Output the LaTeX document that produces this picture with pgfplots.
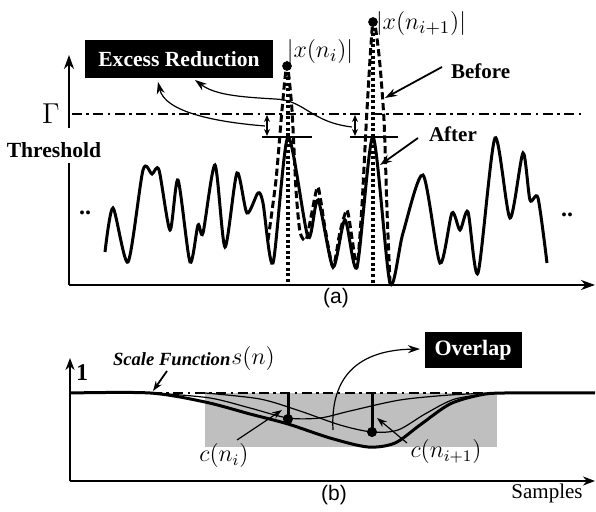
\documentclass[border=0pt]{standalone}
\usepackage{fontspec}
\setmainfont{Liberation Serif}
\newfontfamily\sansf{Liberation Sans}
\usepackage{pgfplots}
\pgfplotsset{compat=1.18}
\usetikzlibrary{arrows.meta}

\begin{document}
\begin{tikzpicture}
\path[use as bounding box] (0,0) rectangle (298pt,256pt);
\begin{axis}[
  at={(0,0)}, anchor=south west,
  scale only axis, width=298pt, height=256pt,
  xmin=0, xmax=596, ymin=0, ymax=512,
  y dir=reverse, hide axis, clip=false,
]
% ---------- panel (a) ----------
% axes
\addplot[line width=1.4pt, -{Stealth[length=7pt,width=5pt]}] coordinates {(69,285)(595,285)};
\addplot[line width=1.4pt] coordinates {(69,285)(69,163)};
\addplot[line width=1.4pt, -{Stealth[length=7pt,width=5pt]}] coordinates {(69,128)(69,55)};
% threshold
\addplot[line width=1.3pt, dash pattern=on 5pt off 2.2pt on 1.3pt off 2.2pt] coordinates {(72,114)(582,114)};
% signal before clipping
\addplot[line width=1.5pt, dash pattern=on 3.6pt off 1.8pt, smooth, tension=0.4] coordinates {
  (268,240)(276,180)(282,110)(287,65)(292,110)(296,190)(300,232)(306,240)
  (312,212)(318,187)(325,228)(333,267)(340,232)(347,210)(352,238)(357,267)
  (362,205)(367,110)(373,21)(379,55)(384,120)(387,210)(390,283)};
% signal after clipping
\addplot[line width=1.5pt, smooth, tension=0.45] coordinates {
  (105,252)(113,208)(128,262)(143,170)(152,174)(159,170)(170,230)(178,180)
  (190,262)(198,225)(203,233)(215,165)(225,247)(237,173)(247,213)(258,193)
  (263,203)(273,263)(288,137)(308,237)(318,200)(333,267)(345,220)(357,267)
  (373,137)(390,283)(403,233)(423,175)(440,263)(452,213)(460,230)(468,212)
  (478,273)(495,138)(510,218)(523,153)(530,200)(538,198)(547,263)};
% peak positions
\addplot[line width=1.6pt, dash pattern=on 1.5pt off 1.3pt] coordinates {(288,66)(288,285)};
\addplot[line width=1.6pt, dash pattern=on 1.5pt off 1.3pt] coordinates {(373,22)(373,285)};
\addplot[only marks, mark=*, mark size=2.2pt] coordinates {(287,66)(373,22)};
% clipped level and excess arrows
\addplot[line width=0.6pt] coordinates {(262,137)(312,137)};
\addplot[line width=0.6pt] coordinates {(350,137)(398,137)};
\addplot[line width=0.6pt, {Stealth[length=3.5pt,width=3pt]}-{Stealth[length=3.5pt,width=3pt]}] coordinates {(267,115)(267,136)};
\addplot[line width=0.6pt, {Stealth[length=3.5pt,width=3pt]}-{Stealth[length=3.5pt,width=3pt]}] coordinates {(355,115)(355,136)};
\draw[line width=0.6pt, -{Stealth[length=6pt,width=4pt]}] (265,126) .. controls (215,122) and (165,112) .. (158,82);
\draw[line width=0.6pt, -{Stealth[length=6pt,width=4pt]}] (352,127) .. controls (310,122) and (305,100) .. (275,99) .. controls (240,97) and (215,95) .. (195,80);
% labels
\node[fill=black, text=white, font=\fontsize{10.8}{12}\selectfont\bfseries,
      minimum width=94pt, minimum height=19pt, inner sep=0pt] at (179,59) {Excess Reduction};
\node[font=\fontsize{14}{16}\selectfont] at (51,114) {$\Gamma$};
\node[fill=white, font=\fontsize{10.8}{13}\selectfont\bfseries, inner sep=1.5pt] at (54,150) {Threshold};
\node[font=\fontsize{12.5}{14}\selectfont] at (320,52) {$\left|x(n_i)\right|$};
\node[font=\fontsize{12.5}{14}\selectfont] at (421,24) {$\left|x(n_{i+1})\right|$};
\node[font=\fontsize{10.5}{12}\selectfont\bfseries, anchor=west] at (444,71) {Before};
\draw[line width=0.9pt, -{Stealth[length=6pt,width=4pt]}] (442,67) -- (385,98);
\node[font=\fontsize{10.5}{12}\selectfont\bfseries, anchor=west] at (422,134) {After};
\draw[line width=0.9pt, -{Stealth[length=6pt,width=4pt]}] (418,138) -- (380,165);
\node[font=\large\bfseries] at (85,213) {..};
\node[font=\large\bfseries] at (567,215) {..};
\node[font=\fontsize{10.5}{12}\selectfont\sansf] at (336,298) {(a)};
% ---------- panel (b) ----------
\addplot[fill=gray!50, draw=none] coordinates {(205,393)(497,393)(497,447)(205,447)} -- cycle;
\addplot[line width=1.1pt, -{Stealth[length=6pt,width=4.5pt]}] coordinates {(70,481)(595,481)};
\addplot[line width=1.1pt, -{Stealth[length=6pt,width=4.5pt]}] coordinates {(70,481)(70,358)};
% individual scale bumps
\addplot[line width=0.6pt, smooth] coordinates {
  (155,393)(210,398)(250,408)(288,418)(320,418)(350,411)(400,400)(450,395)(493,393)};
\addplot[line width=0.6pt, smooth] coordinates {
  (205,393)(260,399)(300,411)(340,425)(372,432)(398,430)(425,414)(455,399)(495,393)};
% scale function
\addplot[line width=1.5pt, smooth, tension=0.5] coordinates {
  (70,393)(150,393)(205,402)(250,414)(288,424)(330,438)(368,447)(395,443)
  (420,425)(450,404)(480,395)(505,393)(595,393)};
\addplot[line width=1.2pt, dash pattern=on 5pt off 2.2pt on 1.3pt off 2.2pt] coordinates {(152,393)(495,393)};
% c(n_i), c(n_{i+1})
\addplot[line width=1.5pt] coordinates {(288,393)(288,419)};
\addplot[line width=1.5pt] coordinates {(372,393)(372,432)};
\addplot[only marks, mark=*, mark size=2.3pt] coordinates {(288,419)(372,432)};
\draw[line width=0.6pt, -{Stealth[length=5pt,width=3.5pt]}] (237,440) -- (282,410);
\draw[line width=0.6pt, -{Stealth[length=5pt,width=3.5pt]}] (407,443) -- (377,418);
\draw[line width=0.6pt, -{Stealth[length=6pt,width=4pt]}] (333,430) .. controls (330,375) and (360,350) .. (420,349);
\draw[line width=0.9pt, -{Stealth[length=5pt,width=3.5pt]}] (167,371) -- (153,391);
% labels
\node[font=\fontsize{12}{14}\selectfont\bfseries] at (82,373) {1};
\node[font=\fontsize{9.3}{11}\selectfont\bfseries\itshape, anchor=west] at (106,359) {Scale Function};
\node[font=\fontsize{12}{14}\selectfont] at (253,359) {$s(n)$};
\node[fill=black, text=white, font=\fontsize{11}{13}\selectfont\bfseries,
      minimum width=48.5pt, minimum height=18pt, inner sep=0pt] at (473,350) {Overlap};
\node[font=\fontsize{12}{14}\selectfont] at (224,456) {$c(n_i)$};
\node[font=\fontsize{12}{14}\selectfont] at (446,452) {$c(n_{i+1})$};
\node[font=\fontsize{10.5}{12}\selectfont] at (547,493) {Samples};
\node[font=\fontsize{10.5}{12}\selectfont\sansf] at (334,495) {(b)};
\end{axis}
\end{tikzpicture}
\end{document}
